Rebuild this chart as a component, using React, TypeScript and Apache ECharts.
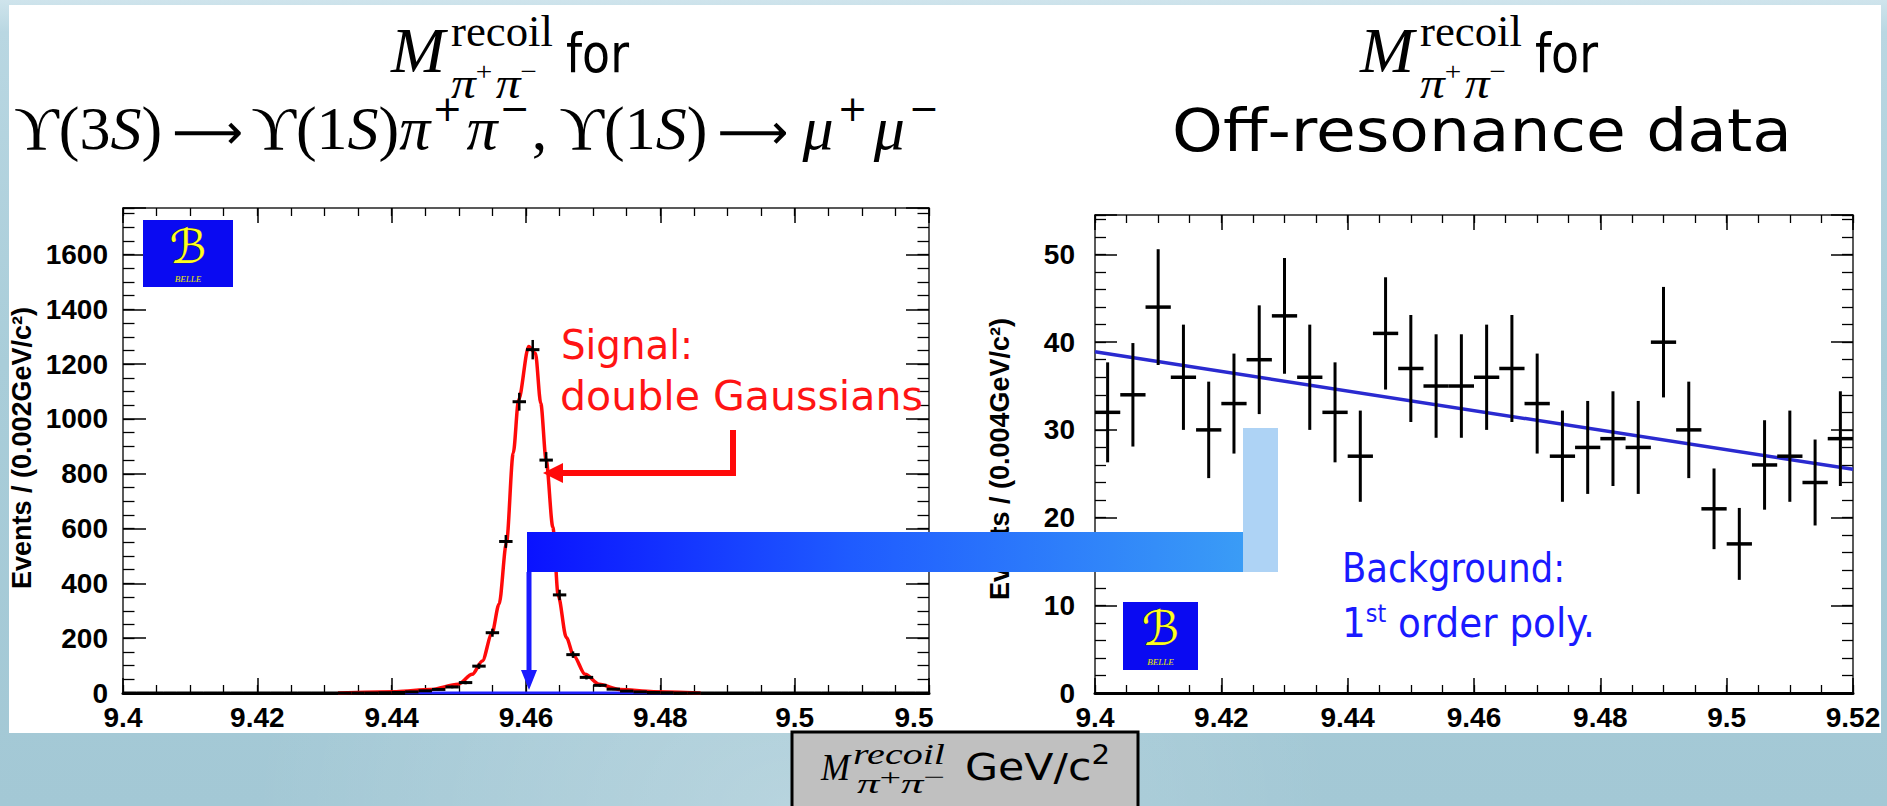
import React, { useEffect, useRef } from "react";
import * as echarts from "echarts";

// ---------------- Left panel: Y(3S) -> Y(1S) pi+ pi-, Y(1S) -> mu+ mu- ----------------
const leftBinStart = 9.4;
const leftBinWidth = 0.002;
const leftCounts = [
  0, 0, 0, 0, 0, 0, 0, 0, 0, 0,
  0, 0, 0, 0, 0, 0, 0, 0, 0, 1,
  2, 4, 8, 13, 22, 38, 98, 220, 553, 1063,
  1253, 850, 358, 140, 57, 28, 14, 7, 4, 2,
  1, 0, 0, 0, 0, 0, 0, 0, 0, 0,
  0, 0, 0, 0, 0, 0, 0, 0, 0, 0,
];
const leftErrors = [
  0, 0, 0, 0, 0, 0, 0, 0, 0, 0,
  0, 0, 0, 0, 0, 0, 0, 0, 0, 1,
  1.4, 2, 2.8, 3.6, 4.7, 6.2, 9.9, 14.8, 23.5, 32.6,
  35.4, 29.2, 18.9, 11.8, 7.5, 5.3, 3.7, 2.6, 2, 1.4,
  1, 0, 0, 0, 0, 0, 0, 0, 0, 0,
  0, 0, 0, 0, 0, 0, 0, 0, 0, 0,
];
// double-Gaussian fit curve
const leftFitX = [9.432, 9.4407, 9.4458, 9.4499, 9.452, 9.4535, 9.4549, 9.456, 9.4571, 9.4581, 9.4589, 9.4604, 9.4614, 9.4622, 9.463, 9.464, 9.4648, 9.466, 9.4671, 9.4688, 9.4709, 9.4739, 9.479, 9.486];
const leftFitY = [0, 5, 13, 32, 68, 117, 215, 325, 550, 875, 1070, 1265, 1240, 1057, 850, 605, 355, 203, 136, 68, 32, 13, 5, 0];
// background component (flat, ~0)
const leftBkgX = [9.442, 9.482];
const leftBkgY = [0, 0];
const leftXTickValues = [9.4, 9.42, 9.44, 9.46, 9.48, 9.5, 9.52];
const leftXTickLabels = ["9.4", "9.42", "9.44", "9.46", "9.48", "9.5", "9.5"];
const leftYTickLabels = ["0", "200", "400", "600", "800", "1000", "1200", "1400", "1600"];
const leftYMax = 1770;

// ---------------- Right panel: off-resonance data ----------------
const rightBinStart = 9.4;
const rightBinWidth = 0.004;
const rightCounts = [32, 34, 44, 36, 30, 33, 38, 43, 36, 32, 27, 41, 37, 35, 35, 36, 37, 33, 27, 28, 29, 28, 40, 30, 21, 17, 26, 27, 24, 29];
const rightErrors = [5.7, 5.9, 6.6, 6, 5.5, 5.7, 6.2, 6.6, 6, 5.7, 5.2, 6.4, 6.1, 5.9, 5.9, 6, 6.1, 5.7, 5.2, 5.3, 5.4, 5.3, 6.3, 5.5, 4.6, 4.1, 5.1, 5.2, 4.9, 5.4];
const rightFitX = [9.4, 9.52];
const rightFitY = [38.9, 25.5];
const rightXTickValues = [9.4, 9.42, 9.44, 9.46, 9.48, 9.5, 9.52];
const rightXTickLabels = ["9.4", "9.42", "9.44", "9.46", "9.48", "9.5", "9.52"];
const rightYTickLabels = ["0", "10", "20", "30", "40", "50"];
const rightYMax = 54.5;

// ---------------- fonts ----------------
const ROOTF = "'Liberation Sans', Arial, sans-serif";
const SERIF = "'Liberation Serif', 'DejaVu Serif', serif";
const GOTHIC = "'DejaVu Sans', sans-serif";
const SYM = "'DejaVu Sans', sans-serif";

type Piece = { t: string; size: number; family?: string; italic?: boolean; bold?: boolean; rise?: number; gap?: number };

let measureCtx: CanvasRenderingContext2D | null = null;
function pieceFont(p: Piece, fam: string) {
  return `${p.italic ? "italic " : ""}${p.bold ? "bold " : ""}${p.size}px ${p.family || fam}`;
}
function textWidth(p: Piece, fam: string) {
  if (!measureCtx) measureCtx = document.createElement("canvas").getContext("2d");
  measureCtx!.font = pieceFont(p, fam);
  return measureCtx!.measureText(p.t).width;
}
function textRun(pieces: Piece[], x: number, baseline: number, targetWidth: number | null, fill: string, fam: string, z = 60) {
  let cx = 0;
  const children: any[] = [];
  pieces.forEach((p) => {
    cx += p.gap || 0;
    children.push({
      type: "text",
      x: cx,
      y: -(p.rise || 0) - 0.34 * p.size,
      z,
      style: {
        text: p.t,
        fontSize: p.size,
        fontFamily: p.family || fam,
        fontStyle: p.italic ? "italic" : "normal",
        fontWeight: p.bold ? "bold" : "normal",
        fill,
        align: "left",
        verticalAlign: "middle",
        textAlign: "left",
        textVerticalAlign: "middle",
      },
    });
    cx += textWidth(p, fam);
  });
  const s = targetWidth ? targetWidth / cx : 1;
  return { type: "group", x, y: baseline, scaleX: s, z, children };
}

function crossRenderer(halfWidth: number, hw: number, vw: number) {
  return (params: any, api: any) => {
    const x = api.value(0);
    const y = api.value(1);
    const e = api.value(2);
    const pL = api.coord([x - halfWidth, y]);
    const pR = api.coord([x + halfWidth, y]);
    const pT = api.coord([x, y + e]);
    const pB = api.coord([x, y - e]);
    return {
      type: "group",
      children: [
        { type: "line", shape: { x1: pL[0], y1: pL[1], x2: pR[0], y2: pR[1] }, style: { stroke: "#000", lineWidth: hw } },
        { type: "line", shape: { x1: pT[0], y1: pT[1], x2: pB[0], y2: pB[1] }, style: { stroke: "#000", lineWidth: vw } },
      ],
    };
  };
}

const tickLabelStyle = { color: "#000", fontSize: 28, fontWeight: "bold" as const, fontFamily: ROOTF };

function xAxes(grid: number, labels: string[], values: number[], clipLast: boolean) {
  const fmt = (v: number) => {
    const i = values.findIndex((t) => Math.abs(t - v) < 1e-6);
    if (i < 0) return "";
    if (clipLast && i === values.length - 1) return `{clip|${labels[i]}}`;
    return labels[i];
  };
  const common = { type: "value", gridIndex: grid, min: 9.4, max: 9.52, splitLine: { show: false } };
  return [
    {
      ...common, position: "bottom", interval: 0.02,
      axisLine: { show: true, onZero: false, lineStyle: { color: "#000", width: 3 } },
      axisTick: { show: true, inside: true, length: 15, lineStyle: { color: "#000", width: 1.5 } },
      axisLabel: { show: true, margin: 10, ...tickLabelStyle, formatter: fmt, rich: { clip: { ...tickLabelStyle, padding: [0, 30, 0, 0] } } },
    },
    {
      ...common, position: "bottom", interval: 0.005,
      axisLine: { show: false, onZero: false },
      axisTick: { show: true, inside: true, length: 8, lineStyle: { color: "#000", width: 1.3 } },
      axisLabel: { show: false },
    },
    {
      ...common, position: "top", interval: 0.02,
      axisLine: { show: true, onZero: false, lineStyle: { color: "#222", width: 1.5 } },
      axisTick: { show: true, inside: true, length: 15, lineStyle: { color: "#000", width: 1.5 } },
      axisLabel: { show: false },
    },
    {
      ...common, position: "top", interval: 0.005,
      axisLine: { show: false, onZero: false },
      axisTick: { show: true, inside: true, length: 8, lineStyle: { color: "#000", width: 1.3 } },
      axisLabel: { show: false },
    },
  ];
}

function yAxes(grid: number, max: number, major: number, minor: number, labels: string[], tickLen: number, margin: number) {
  const fmt = (v: number) => {
    const i = Math.round(v / major);
    if (Math.abs(v - i * major) > 1e-6 || i >= labels.length) return "";
    return labels[i];
  };
  const common = { type: "value", gridIndex: grid, min: 0, max, splitLine: { show: false } };
  return [
    {
      ...common, position: "left", interval: major,
      axisLine: { show: true, onZero: false, lineStyle: { color: "#222", width: 1.5 } },
      axisTick: { show: true, inside: true, length: tickLen, lineStyle: { color: "#000", width: 1.5 } },
      axisLabel: { show: true, margin, ...tickLabelStyle, formatter: fmt },
    },
    {
      ...common, position: "left", interval: minor,
      axisLine: { show: false, onZero: false },
      axisTick: { show: true, inside: true, length: tickLen / 2, lineStyle: { color: "#000", width: 1.3 } },
      axisLabel: { show: false },
    },
    {
      ...common, position: "right", interval: major,
      axisLine: { show: true, onZero: false, lineStyle: { color: "#222", width: 1.5 } },
      axisTick: { show: true, inside: true, length: tickLen, lineStyle: { color: "#000", width: 1.5 } },
      axisLabel: { show: false },
    },
    {
      ...common, position: "right", interval: minor,
      axisLine: { show: false, onZero: false },
      axisTick: { show: true, inside: true, length: tickLen / 2, lineStyle: { color: "#000", width: 1.3 } },
      axisLabel: { show: false },
    },
  ];
}

function logo(x: number, y: number, w: number, h: number) {
  return {
    type: "group",
    x,
    y,
    z: 40,
    children: [
      { type: "rect", z: 40, shape: { x: 0, y: 0, width: w, height: h }, style: { fill: "#0a0af2" } },
      {
        type: "text", z: 41, x: w / 2, y: h * 0.39,
        style: { text: "ℬ", fontSize: h * 0.7, fontFamily: "'DejaVu Serif', 'DejaVu Sans', serif", fill: "#ffff20", stroke: "#3a3a00", lineWidth: 0.6, align: "center", verticalAlign: "middle", textAlign: "center", textVerticalAlign: "middle" },
      },
      {
        type: "text", z: 41, x: w / 2, y: h * 0.88,
        style: { text: "BELLE", fontSize: 9, fontStyle: "italic", fontFamily: SERIF, fill: "#e8e800", align: "center", verticalAlign: "middle", textAlign: "center", textVerticalAlign: "middle" },
      },
    ],
  };
}

function titleLine1(dx: number) {
  return [
    textRun([{ t: "M", size: 64, italic: true }], 391 + dx, 72, 54, "#000", SERIF),
    textRun([{ t: "recoil", size: 44 }], 451 + dx, 46, 102, "#000", SERIF),
    textRun(
      [
        { t: "π", size: 44, italic: true },
        { t: "+", size: 26, rise: 18 },
        { t: "π", size: 44, italic: true, gap: 3 },
        { t: "−", size: 26, rise: 18 },
      ],
      451 + dx, 98, 86, "#000", SERIF
    ),
    textRun([{ t: "for", size: 53 }], 566 + dx, 72, 63, "#000", GOTHIC),
  ];
}

export default function App() {
  const ref = useRef<HTMLDivElement>(null);

  useEffect(() => {
    if (!ref.current) return;
    const chart = echarts.init(ref.current, undefined, { renderer: "svg" });

    const leftData = leftCounts.map((c, i) => [leftBinStart + leftBinWidth * (i + 0.5), c, leftErrors[i]]);
    const rightData = rightCounts.map((c, i) => [rightBinStart + rightBinWidth * (i + 0.5), c, rightErrors[i]]);

    const F = 62;
    const sup = 28;
    const supSize = 36;
    const line2Pieces: Piece[] = [
      { t: "ϒ(3", size: F },
      { t: "S", size: F, italic: true },
      { t: ")", size: F },
      { t: "⟶", size: F * 0.8, family: SYM, gap: 10 },
      { t: "ϒ(1", size: F, gap: 8 },
      { t: "S", size: F, italic: true },
      { t: ")", size: F },
      { t: "π", size: F, italic: true },
      { t: "+", size: supSize, family: SYM, rise: sup, gap: 2 },
      { t: "π", size: F, italic: true, gap: 4 },
      { t: "−", size: supSize, family: SYM, rise: sup, gap: 2 },
      { t: ",", size: F, gap: 2 },
      { t: "ϒ(1", size: F, gap: 12 },
      { t: "S", size: F, italic: true },
      { t: ")", size: F },
      { t: "⟶", size: F * 0.8, family: SYM, gap: 10 },
      { t: "μ", size: F, italic: true, gap: 14 },
      { t: "+", size: supSize, family: SYM, rise: sup, gap: 4 },
      { t: "μ", size: F, italic: true, gap: 6 },
      { t: "−", size: supSize, family: SYM, rise: sup, gap: 4 },
    ];

    const graphic: any[] = [
      // titles
      ...titleLine1(0),
      ...titleLine1(969),
      textRun(line2Pieces, 14, 149, 925, "#000", SERIF),
      textRun([{ t: "Off-resonance data", size: 59 }], 1172, 151, 620, "#000", GOTHIC),
      // y-axis titles
      {
        type: "text", x: 22, y: 448, rotation: Math.PI / 2, z: 30,
        style: { text: "Events / (0.002GeV/c²)", fontSize: 27, fontWeight: "bold", fontFamily: ROOTF, fill: "#000", align: "center", verticalAlign: "middle", textAlign: "center", textVerticalAlign: "middle" },
      },
      {
        type: "text", x: 1000, y: 459, rotation: Math.PI / 2, z: 30,
        style: { text: "Events / (0.004GeV/c²)", fontSize: 27, fontWeight: "bold", fontFamily: ROOTF, fill: "#000", align: "center", verticalAlign: "middle", textAlign: "center", textVerticalAlign: "middle" },
      },
      // Belle logos
      logo(143, 220, 90, 67),
      logo(1123, 602, 75, 68),
      // signal annotation
      textRun([{ t: "Signal:", size: 40 }], 561, 358, 132, "#ff1414", GOTHIC),
      textRun([{ t: "double Gaussians", size: 40 }], 560, 410, 363, "#ff1414", GOTHIC),
      {
        type: "polyline", z: 80,
        shape: { points: [[733, 430], [733, 473], [556, 473]] },
        style: { stroke: "#ff0a0a", lineWidth: 6, fill: null, lineJoin: "miter" },
      },
      { type: "polygon", z: 80, shape: { points: [[543, 473], [563, 463], [563, 483]] }, style: { fill: "#ff0a0a" } },
      // background annotation
      textRun([{ t: "Background:", size: 40 }], 1342, 582, 223, "#1a1aff", GOTHIC),
      textRun([{ t: "1", size: 40 }, { t: "st", size: 24, rise: 16 }, { t: " order poly.", size: 40 }], 1342, 637, 253, "#1a1aff", GOTHIC),
      // blue linking bar
      {
        type: "rect", z: 90,
        shape: { x: 1243, y: 428, width: 35, height: 144 },
        style: { fill: "#aed3f5" },
      },
      {
        type: "rect", z: 91,
        shape: { x: 527, y: 532, width: 716, height: 40 },
        style: {
          fill: new echarts.graphic.LinearGradient(0, 0, 1, 0, [
            { offset: 0, color: "#0a12ff" },
            { offset: 0.45, color: "#1f5bff" },
            { offset: 1, color: "#3a9cf6" },
          ]),
        },
      },
      { type: "line", z: 91, shape: { x1: 529, y1: 572, x2: 529, y2: 674 }, style: { stroke: "#1a1aff", lineWidth: 5 } },
      { type: "polygon", z: 91, shape: { points: [[529, 690], [521, 670], [537, 670]] }, style: { fill: "#1a1aff" } },
      // bottom label box
      { type: "rect", z: 95, shape: { x: 792, y: 732, width: 346, height: 80 }, style: { fill: "#c0c0c0", stroke: "#000", lineWidth: 3 } },
      textRun([{ t: "M", size: 38, italic: true }], 821, 780, 29, "#000", SERIF, 96),
      textRun([{ t: "recoil", size: 30, italic: true }], 853, 764, 92, "#000", SERIF, 96),
      textRun(
        [
          { t: "π", size: 28, italic: true },
          { t: "+", size: 24, rise: 8 },
          { t: "π", size: 28, italic: true },
          { t: "−", size: 24, rise: 8 },
        ],
        857, 793, 88, "#000", SERIF, 96
      ),
      textRun([{ t: "GeV/c", size: 38 }, { t: "2", size: 26, rise: 16 }], 965, 780, 145, "#000", GOTHIC, 96),
    ];

    const option: any = {
      animation: false,
      backgroundColor: "transparent",
      grid: [
        { left: 123, top: 208, width: 806, height: 485 },
        { left: 1095, top: 215, width: 758, height: 478 },
      ],
      xAxis: [
        ...xAxes(0, leftXTickLabels, leftXTickValues, true),
        ...xAxes(1, rightXTickLabels, rightXTickValues, false),
      ],
      yAxis: [
        ...yAxes(0, leftYMax, 200, 50, leftYTickLabels, 23, 15),
        ...yAxes(1, rightYMax, 10, 2, rightYTickLabels, 22, 20),
      ],
      series: [
        {
          type: "line", name: "background", xAxisIndex: 0, yAxisIndex: 0, z: 2,
          data: leftBkgX.map((x, i) => [x, leftBkgY[i]]),
          symbol: "none", lineStyle: { color: "#2020ff", width: 3 },
        },
        {
          type: "line", name: "signal fit", xAxisIndex: 0, yAxisIndex: 0, z: 3,
          data: leftFitX.map((x, i) => [x, leftFitY[i]]),
          smooth: 0.3, smoothMonotone: "x",
          symbol: "none", lineStyle: { color: "#ff0a0a", width: 3.5 },
        },
        {
          type: "custom", name: "data", xAxisIndex: 0, yAxisIndex: 0, z: 4,
          data: leftData, encode: { x: 0, y: 1 },
          renderItem: crossRenderer(leftBinWidth / 2, 3, 2.5),
        },
        {
          type: "line", name: "off-res fit", xAxisIndex: 4, yAxisIndex: 4, z: 3,
          data: rightFitX.map((x, i) => [x, rightFitY[i]]),
          symbol: "none", lineStyle: { color: "#2a2ad0", width: 3.5 },
        },
        {
          type: "custom", name: "off-res data", xAxisIndex: 4, yAxisIndex: 4, z: 4,
          data: rightData, encode: { x: 0, y: 1 },
          renderItem: crossRenderer(rightBinWidth / 2, 3.5, 3),
        },
      ],
      graphic,
    };

    chart.setOption(option);
    return () => chart.dispose();
  }, []);

  return (
    <div
      style={{
        position: "fixed",
        left: 0,
        top: 0,
        width: 1887,
        height: 806,
        overflow: "hidden",
        background:
          "radial-gradient(ellipse at 42% 100%, rgba(255,255,255,0.22) 0%, rgba(255,255,255,0) 35%), linear-gradient(180deg, #cfe4ec 0%, #b9d7e2 4%, #a9cdd9 45%, #a3c8d5 100%)",
      }}
    >
      <div style={{ position: "absolute", left: 9, top: 5, width: 1872, height: 728, background: "#ffffff" }} />
      <div ref={ref} style={{ position: "absolute", left: 0, top: 0, width: 1887, height: 806 }} />
    </div>
  );
}
